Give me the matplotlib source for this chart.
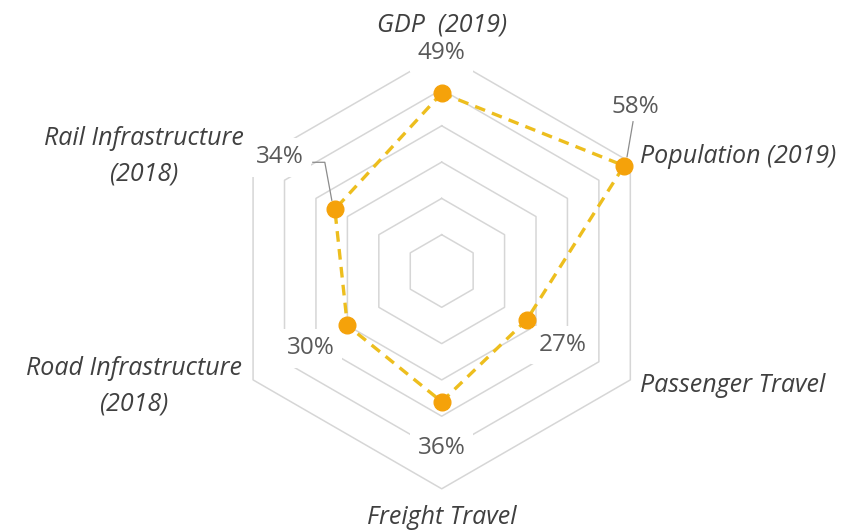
import numpy as np
import matplotlib.pyplot as plt

plt.rcParams['font.family'] = ['Open Sans', 'DejaVu Sans']

# data
categories = ['GDP  (2019)', 'Population (2019)', 'Passenger Travel',
              'Freight Travel', 'Road Infrastructure\n(2018)', 'Rail Infrastructure\n(2018)']
values = [49, 58, 27, 36, 30, 34]
value_labels = ['49%', '58%', '27%', '36%', '30%', '34%']
rings = [10, 20, 30, 40, 50, 60]

# label placement (radius in data units, alignment) and value-label offsets in pixels
cat_radius = [67.8, 63, 63, 67.8, 63.5, 63]
cat_ha = ['center', 'left', 'left', 'center', 'right', 'right']
val_offsets = [(0, -40), (11, -59), (36, 25), (0, 46), (-37, 23), (-55, -52)]

line_color = '#EDBE1E'
marker_color = '#F5A20A'
grid_color = '#D6D6D6'
text_color = '#595959'
cat_color = '#404040'

px = 3.63            # pixels per percent
cx, cy = 441.7, 271  # centre in pixels (from top-left)
W, H = 846, 531

fig = plt.figure(figsize=(W / 100, H / 100), dpi=100)
ax = fig.add_axes([0, 0, 1, 1])
ax.set_xlim(-cx / px, (W - cx) / px)
ax.set_ylim(-(H - cy) / px, cy / px)
ax.axis('off')

angles = np.deg2rad(90 - 60 * np.arange(len(categories)))
ca, sa = np.cos(angles), np.sin(angles)

# hexagon grid
for r in rings:
    ax.plot(np.append(r * ca, r * ca[0]), np.append(r * sa, r * sa[0]),
            color=grid_color, lw=1.1, zorder=1)

# data polygon
vals = np.array(values, dtype=float)
xs, ys = vals * ca, vals * sa
ax.plot(np.append(xs, xs[0]), np.append(ys, ys[0]), color=line_color, lw=2.4,
        ls=(0, (3.2, 2.2)), zorder=4)
ax.plot(xs, ys, 'o', color=marker_color, ms=12, mec=marker_color, zorder=5)

# value labels
box = dict(facecolor='white', edgecolor='none', boxstyle='square,pad=0.3')
for i, lab in enumerate(value_labels):
    dx, dy = val_offsets[i]
    ax.annotate(lab, xy=(xs[i], ys[i]), xytext=(dx, -dy), textcoords='offset pixels',
                ha='center', va='center', fontsize=17.5, color=text_color,
                bbox=box, zorder=3)

# leader lines for 58% and 34%
leaders = {1: [(9, -44), (3, -9)], 5: [(-22, -47), (-10, -47), (-3, -9)]}
for i, pts in leaders.items():
    lx = [xs[i] + p[0] / px for p in pts]
    ly = [ys[i] - p[1] / px for p in pts]
    ax.plot(lx, ly, color='#8C8C8C', lw=0.9, zorder=3)

# category labels
for i, cat in enumerate(categories):
    ax.text(cat_radius[i] * ca[i], cat_radius[i] * sa[i], cat, ha=cat_ha[i], va='center',
            multialignment='center', fontsize=18, style='italic', color=cat_color,
            linespacing=1.55, zorder=3,
            bbox=dict(facecolor='white', edgecolor='none', pad=1))

fig.savefig('out.png', dpi=100, facecolor='white')
